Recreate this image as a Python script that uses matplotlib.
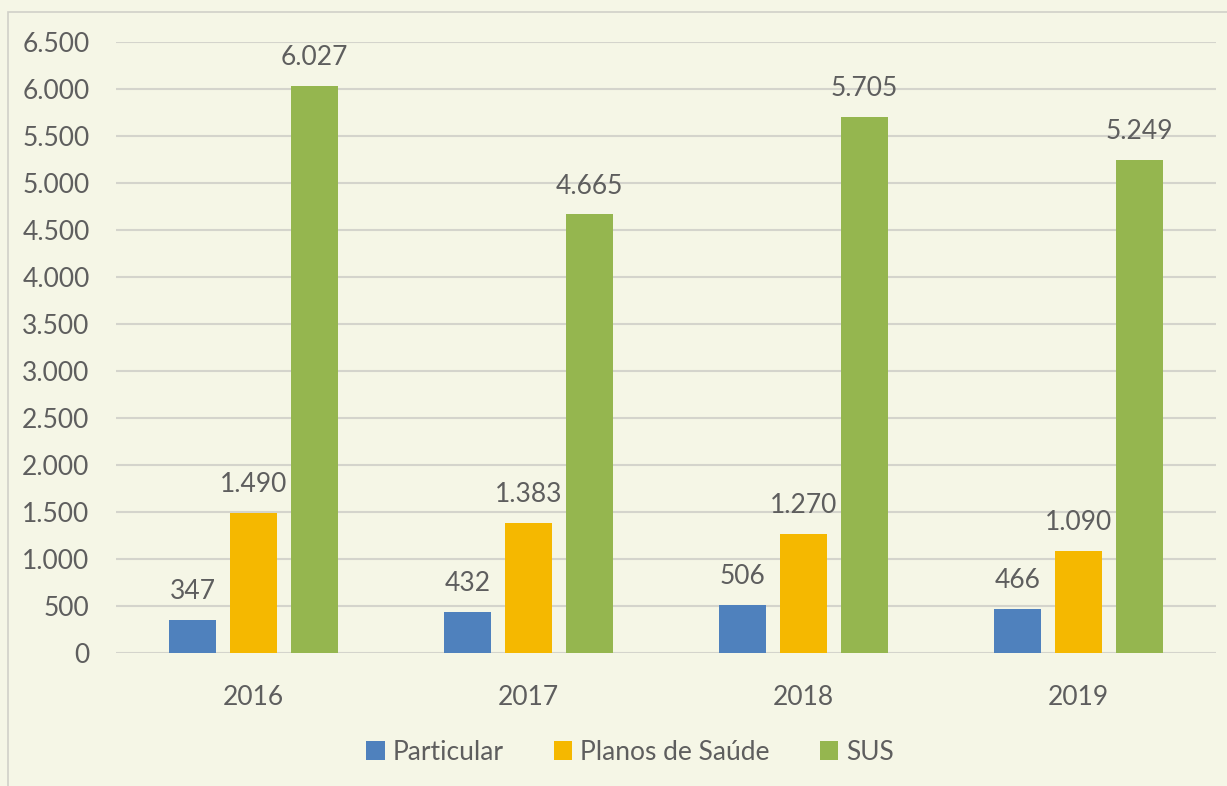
import numpy as np
import matplotlib.pyplot as plt
from matplotlib.patches import Rectangle

years = ['2016', '2017', '2018', '2019']
particular = [347, 432, 506, 466]
planos = [1490, 1383, 1270, 1090]
sus = [6027, 4665, 5705, 5249]
series_names = ['Particular', 'Planos de Saúde', 'SUS']
colors = ['#4F81BD', '#F5B800', '#95B64F']

plt.rcParams['font.family'] = ['Lato', 'DejaVu Sans']
text_color = '#5E5E5E'
bg = '#F5F6E6'

def fmt(v):
    return f'{v:,.0f}'.replace(',', '.')

fig = plt.figure(figsize=(12.27, 7.86), dpi=100, facecolor=bg)
W, H = 1227, 786
ax = fig.add_axes([116 / W, 1 - 653 / H, 1100 / W, (653 - 42) / H])
ax.set_facecolor(bg)

# outer chart border
fig.patches.append(Rectangle((8 / W, -0.01), 1.2, 1 - 12 / H + 0.01, transform=fig.transFigure,
                             fill=False, edgecolor='#D0D0C8', linewidth=1.2))

x = np.arange(len(years))
width = 0.1745
pitch = 0.2218
for i, (vals, name, c) in enumerate(zip([particular, planos, sus], series_names, colors)):
    bars = ax.bar(x + (i - 1) * pitch, vals, width, color=c, label=name, zorder=3)
    for b, v in zip(bars, vals):
        ax.text(b.get_x() + b.get_width() / 2, v + 170, fmt(v), ha='center', va='bottom',
                fontsize=19, color=text_color)

ax.set_xlim(-0.5, 3.5)
ax.set_ylim(0, 6500)
ax.set_yticks(np.arange(0, 6501, 500))
ax.set_yticklabels([fmt(v) for v in np.arange(0, 6501, 500)])
ax.set_xticks(x)
ax.set_xticklabels(years)
ax.tick_params(axis='both', length=0, labelsize=19, colors=text_color)
ax.tick_params(axis='x', pad=23)
ax.tick_params(axis='y', pad=19)
ax.grid(axis='y', color='#D4D4CC', linewidth=1.5, zorder=0)
for s in ax.spines.values():
    s.set_visible(False)

leg = fig.legend(loc='center', bbox_to_anchor=(630 / W, 1 - 752 / H), ncol=3, frameon=False,
                 fontsize=19, handlelength=0.7, handleheight=0.7, handletextpad=0.3,
                 columnspacing=1.9, labelcolor=text_color)

fig.savefig('out.png', dpi=100, facecolor=bg)
